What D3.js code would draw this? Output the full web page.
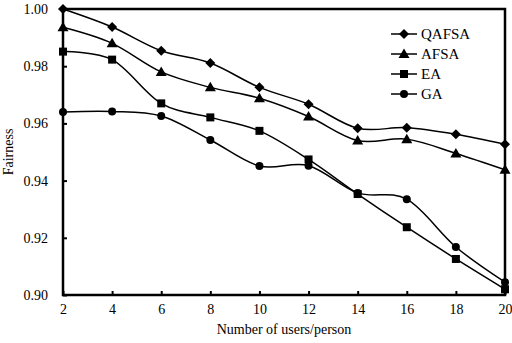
<!DOCTYPE html>
<html><head><meta charset="utf-8">
<script src="https://cdn.jsdelivr.net/npm/d3@7"></script>
<style>body{margin:0;background:#fff}svg{display:block}text{font-family:"Liberation Serif","Times New Roman",serif;fill:#000}</style>
</head><body><svg id="c" width="512" height="343"></svg>
<script>
const users = [2,4,6,8,10,12,14,16,18,20];
const QAFSA = [1.000,0.9937,0.9854,0.9811,0.9726,0.9667,0.9583,0.9585,0.9562,0.9527];
const AFSA  = [0.9936,0.9880,0.9780,0.9726,0.9688,0.9624,0.9540,0.9545,0.9495,0.9438];
const EA    = [0.9851,0.9823,0.9670,0.9621,0.9574,0.9474,0.9353,0.9237,0.9126,0.9020];
const GA    = [0.9640,0.9642,0.9626,0.9542,0.9451,0.9452,0.9357,0.9335,0.9168,0.9045];
const yTicks = [0.90,0.92,0.94,0.96,0.98,1.00];
const seriesNames = ["QAFSA","AFSA","EA","GA"];
const seriesData = [QAFSA,AFSA,EA,GA];
const markers = ["diamond","triangle","square","circle"];

const svg = d3.select("#c");
const L=63,R=505,T=9,B=295;
const x = d3.scaleLinear().domain([2,20]).range([L,R]);
const y = d3.scaleLinear().domain([0.90,1.00]).range([B,T]);

// frame
svg.append("rect").attr("x",L).attr("y",T).attr("width",R-L).attr("height",B-T)
  .attr("fill","none").attr("stroke","#000").attr("stroke-width",2.5);

// x axis
const xa = svg.append("g").attr("transform",`translate(0,${B})`)
  .call(d3.axisBottom(x).tickValues(users).tickSize(-4).tickPadding(9).tickFormat(d3.format("d")));
xa.select(".domain").remove();
xa.selectAll("line").attr("stroke-width",2);
xa.selectAll("text").attr("font-size",14).attr("font-family","Liberation Serif");

// y axis
const ya = svg.append("g").attr("transform",`translate(${L},0)`)
  .call(d3.axisLeft(y).tickValues(yTicks).tickSize(-4).tickPadding(15).tickFormat(d3.format(".2f")));
ya.select(".domain").remove();
ya.selectAll("line").attr("stroke-width",2);
ya.selectAll("text").attr("font-size",14).attr("font-family","Liberation Serif");

// titles
svg.append("text").attr("x",(L+R)/2).attr("y",334).attr("text-anchor","middle")
  .attr("font-size",14).text("Number of users/person");
svg.append("text").attr("transform","translate(13,152) rotate(-90)").attr("text-anchor","middle")
  .attr("font-size",14).text("Fairness");

const line = d3.line().x((d,i)=>x(users[i])).y(d=>y(d)).curve(d3.curveCatmullRom.alpha(0));

function marker(g,type,cx,cy){
  if(type==="diamond") g.append("path").attr("d",`M${cx},${cy-5}L${cx+5},${cy}L${cx},${cy+5}L${cx-5},${cy}Z`);
  else if(type==="triangle") g.append("path").attr("d",`M${cx},${cy-5.5}L${cx+5.5},${cy+4}L${cx-5.5},${cy+4}Z`);
  else if(type==="square") g.append("rect").attr("x",cx-4).attr("y",cy-4).attr("width",8).attr("height",8);
  else g.append("circle").attr("cx",cx).attr("cy",cy).attr("r",4);
}

seriesData.forEach((s,k)=>{
  const g = svg.append("g");
  g.append("path").attr("d",line(s)).attr("fill","none").attr("stroke","#000").attr("stroke-width",1.5);
  const mg = g.append("g").attr("fill","#000");
  s.forEach((v,i)=>marker(mg,markers[k],x(users[i]),y(v)));
});

// legend
const lg = svg.append("g");
seriesNames.forEach((n,k)=>{
  const yy = 34 + k*20;
  lg.append("line").attr("x1",391).attr("x2",417).attr("y1",yy).attr("y2",yy).attr("stroke","#000").attr("stroke-width",1.5);
  const mg = lg.append("g").attr("fill","#000");
  marker(mg,markers[k],404,yy);
  lg.append("text").attr("x",421).attr("y",yy+5).attr("font-size",15).text(n);
});
</script></body></html>
